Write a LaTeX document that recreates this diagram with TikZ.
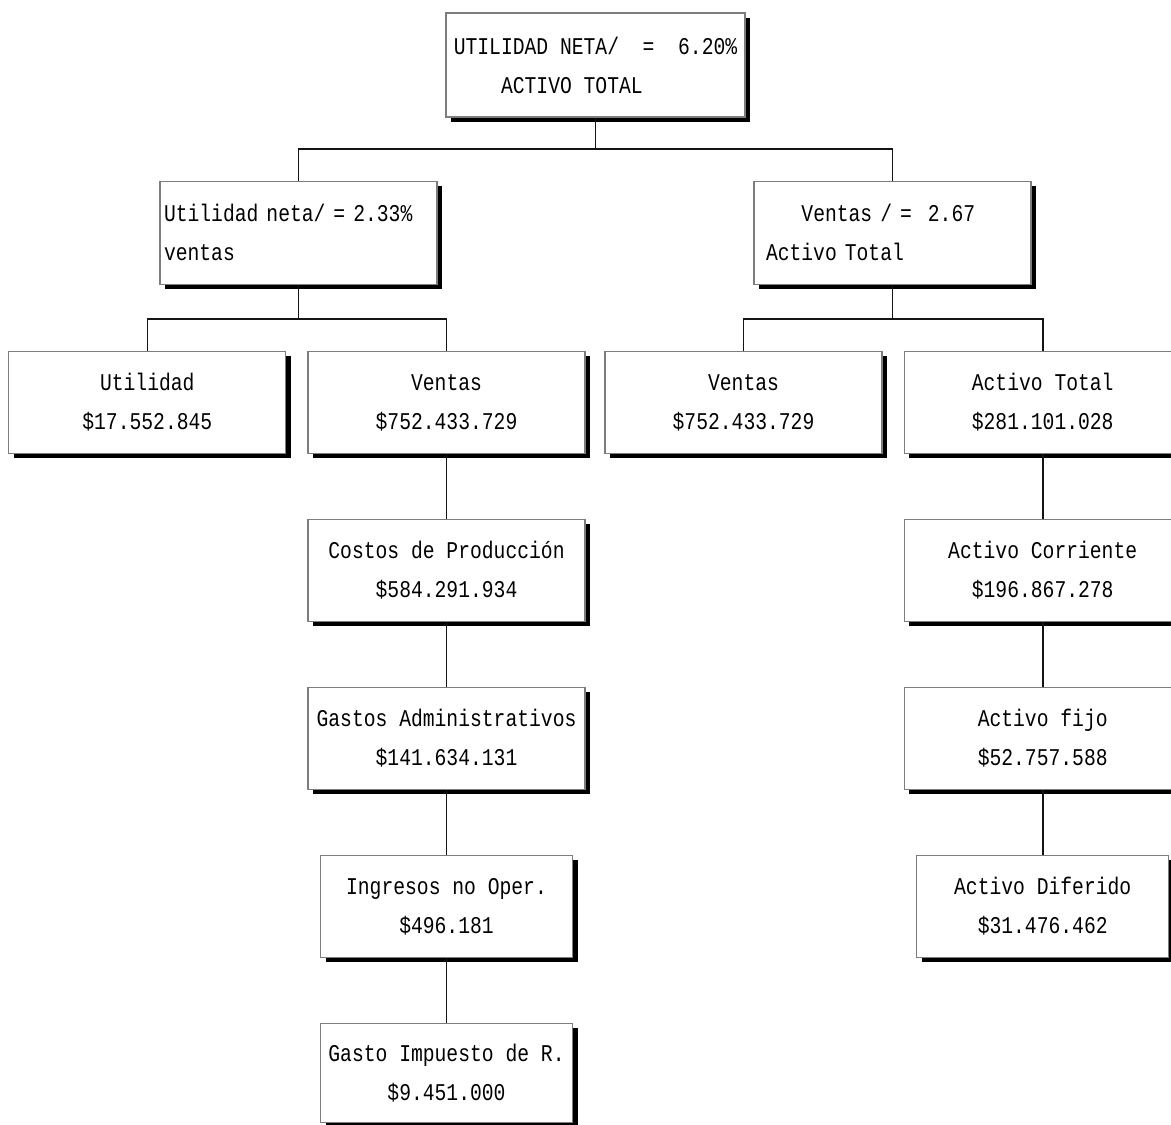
\documentclass[tikz,border=0pt]{standalone}
\usepackage{fontspec}
\newfontfamily\boxfont[FakeStretch=0.82]{Liberation Mono}
\usetikzlibrary{
  positioning,
  shadows
}
\definecolor{dpframe}{RGB}{125,125,125}
\definecolor{dpline}{RGB}{20,20,20}
\tikzset{
  block/.style={
    rectangle, draw=dpframe, line width=0.6pt, fill=white,
    minimum width=138.5pt, minimum height=51pt, inner sep=2pt,
    align=center, font=\boxfont\fontsize{12}{19.5}\selectfont,
    drop shadow={shadow xshift=2.5pt, shadow yshift=-2.5pt,
                 fill=black, opacity=1}
  },
  blockS/.style={
    block, minimum width=126pt
  },
  blockL/.style={
    block, align=left
  },
  blockT/.style={
    block, align=left, text width=134.5pt, minimum height=51.5pt
  },
  link/.style={draw=dpline, line width=0.8pt}
}

\begin{document}
\begin{tikzpicture}[node distance=32.4pt and 10.5pt]
  \useasboundingbox (0,0) rectangle (585.5pt,-562pt);
  \clip (0,0) rectangle (585.5pt,-562pt);

  \node[blockL, minimum width=149.5pt, minimum height=52pt]
    (roa) at (297.75pt,-32.5pt)
    {UTILIDAD NETA/\ \ =\ \ 6.20\%\\\phantom{XXXX}ACTIVO TOTAL};

  \node[blockT, below=31.5pt of roa, xshift=-148.5pt]
    (margen) {Utilidad neta/ = 2.33\%\\ventas};
  \node[blockT, below=31.5pt of roa, xshift=148.5pt]
    (rotacion) {\hspace*{4pt}\phantom{XXX}Ventas / =\ \ 2.67\\\hspace*{4pt}Activo Total};

  \node[block, below=33pt of margen, xshift=74pt]    (ventasA)  {Ventas\\\$752.433.729};
  \node[block, left=of ventasA]                      (utilidad) {Utilidad\\\$17.552.845};
  \node[block, below=33pt of rotacion, xshift=-74.5pt] (ventasB) {Ventas\\\$752.433.729};
  \node[block, right=of ventasB]                     (activo)   {Activo Total\\\$281.101.028};

  \node[block, below=of ventasA]  (costos)   {Costos de Producción\\\$584.291.934};
  \node[block, below=of costos]   (gastos)   {Gastos Administrativos\\\$141.634.131};
  \node[blockS, below=of gastos]  (ingresos) {Ingresos no Oper.\\\$496.181};
  \node[blockS, below=of ingresos, minimum height=49.5pt]
    (impuesto) {Gasto Impuesto de R.\\\$9.451.000};

  \node[block, below=of activo]     (corriente) {Activo Corriente\\\$196.867.278};
  \node[block, below=of corriente]  (fijo)      {Activo fijo\\\$52.757.588};
  \node[blockS, below=of fijo]      (diferido)  {Activo Diferido\\\$31.476.462};

  \draw[link] (roa.south) -- ++(0,-15.75pt) coordinate (j1);
  \draw[link] (margen.north) |- (j1) -| (rotacion.north);

  \draw[link] (margen.south) -- ++(0,-17pt) coordinate (j2);
  \draw[link] (utilidad.north) |- (j2) -| (ventasA.north);
  \draw[link] (rotacion.south) -- ++(0,-17pt) coordinate (j3);
  \draw[link] (ventasB.north) |- (j3) -| (activo.north);

  \foreach \a/\b in {ventasA/costos, costos/gastos, gastos/ingresos,
                     ingresos/impuesto, activo/corriente, corriente/fijo,
                     fijo/diferido}
    \draw[link] (\a) -- (\b);
\end{tikzpicture}
\end{document}
